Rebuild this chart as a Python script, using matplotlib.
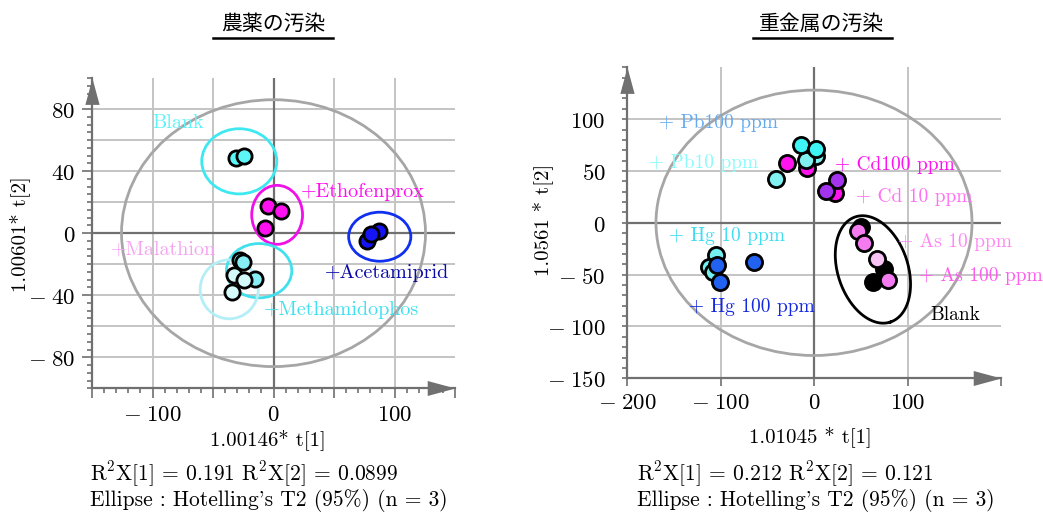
import numpy as np
import matplotlib.pyplot as plt
from matplotlib.patches import Ellipse
from matplotlib.lines import Line2D
from matplotlib.ticker import MultipleLocator, FuncFormatter

plt.rcParams['mathtext.fontset'] = 'cm'
plt.rcParams['axes.unicode_minus'] = False
SERIF = 'cmr10'
CJK = 'Noto Sans CJK JP'

# ---------------- 農薬 (pesticide) panel ----------------
pest_blank_x = [-31.4, -24.5]
pest_blank_y = [48.2, 50.0]
etho_x = [-4.7, 5.8, -7.4]
etho_y = [17.8, 14.4, 3.2]
acet_x = [76.9, 87.0, 80.2]
acet_y = [-5.3, 1.1, -0.6]
metha_x = [-27.3, -25.0, -14.9]
metha_y = [-17.1, -18.8, -29.6]
mala_x = [-32.8, -24.5, -34.0]
mala_y = [-26.8, -30.4, -38.1]

# group ellipses: centre x, centre y, half width, half height
pest_ell_cx = [-28.3, 3.0, 87.8, -11.9, -36.6]
pest_ell_cy = [46.3, 11.8, -2.3, -24.2, -36.2]
pest_ell_a = [31.0, 21.0, 25.7, 27.0, 24.0]
pest_ell_b = [21.0, 19.0, 15.8, 17.5, 19.0]
pest_t2 = [125.6, 86.0]

pest_labels = ['Blank', '+Ethofenprox', '+Malathion', '+Acetamiprid', '+Methamidophos']
pest_lab_x = [-100, 22.3, -134, 42.1, -8]
pest_lab_y = [71, 26.8, -10.7, -25.7, -49.3]

# ---------------- 重金属 (heavy metal) panel ----------------
cd100_x = [-28.5, -7.5, 22.2]
cd100_y = [57.4, 52.5, 28.4]
pb_hi_x = [-13.5, 1.8]
pb_hi_y = [75.1, 70.9]
pb_lo_x = [2.6, -8.1, -41.0]
pb_lo_y = [64.4, 60.6, 41.9]
cd10_x = [24.7, 13.3]
cd10_y = [41.3, 30.9]
metal_blank_x = [50.8, 74.7, 62.6]
metal_blank_y = [-4.4, -45.0, -57.0]
as10_x = [47.2, 53.6]
as10_y = [-7.7, -19.9]
as_lt_x = [66.9]
as_lt_y = [-35.4]
as100_x = [79.3]
as100_y = [-54.7]
hg10_x = [-104.6, -111.8, -108.0]
hg10_y = [-31.2, -42.5, -47.0]
hg100_x = [-104.0, -101.0, -64.6]
hg100_y = [-40.9, -57.0, -37.7]

metal_t2 = [169.0, 128.0]
# blank ellipse: centre, half axis vectors (data units)
blank_ell_c = [63.0, -45.0]
blank_ell_u = [18.8, -50.7]
blank_ell_v = [35.6, 10.7]

metal_labels = ['+ Pb100 ppm', '+ Pb10 ppm', '+ Cd100 ppm', '+ Cd 10 ppm',
                '+ Hg 10 ppm', '+ Hg 100 ppm', '+ As 10 ppm', '+ As 100 ppm', 'Blank']
metal_lab_x = [-165.4, -176, 22.2, 45.4, -155.4, -134, 89.4, 112.0, 124]
metal_lab_y = [96, 58, 55.7, 25, -12.8, -81.7, -18.3, -51.5, -89]

AX_GRAY = '#707070'
GRID = '#c4c4c4'
W, H = 1043, 513


def fmt(v, pos):
    if v < 0:
        return r'$-\;%d$' % (-v)
    return r'$%d$' % v


def style_axes(ax, xl, yl):
    ax.set_xlim(*xl)
    ax.set_ylim(*yl)
    for s in ['top', 'right']:
        ax.spines[s].set_visible(False)
    for s in ['left', 'bottom']:
        ax.spines[s].set_color(AX_GRAY)
        ax.spines[s].set_linewidth(1.6)
    ax.tick_params(which='both', color=AX_GRAY, width=1.2, labelcolor='black')
    ax.tick_params(which='major', length=7)
    ax.tick_params(which='minor', length=3.5)
    ax.axhline(0, color=AX_GRAY, lw=1.6, zorder=1)
    ax.axvline(0, color=AX_GRAY, lw=1.6, zorder=1)
    # arrow heads on the axes
    ax.plot([1], [0], transform=ax.transAxes, marker=[(-1, -0.27), (0, 0), (-1, 0.27)],
            ms=40, color=AX_GRAY, mec='none', clip_on=False, zorder=5)
    ax.plot([0], [1], transform=ax.transAxes, marker=[(-0.27, -1), (0, 0), (0.27, -1)],
            ms=38, color=AX_GRAY, mec='none', clip_on=False, zorder=5)


def pts(ax, x, y, c, s):
    ax.scatter(x, y, s=s, c=c, edgecolors='black', linewidths=2.0, zorder=4)


fig = plt.figure(figsize=(W / 100, H / 100), dpi=100)

# ---------- left panel ----------
ax1 = fig.add_axes([92 / W, 1 - 388.3 / H, 363 / W, 310.3 / H])
style_axes(ax1, (-150, 150), (-100, 100))
for g in [-100, -50, 50, 100]:
    ax1.axvline(g, color=GRID, lw=1.4, zorder=0)
for g in [-80, -60, -40, -20, 20, 40, 60, 80]:
    ax1.axhline(g, color=GRID, lw=1.4, zorder=0)
ax1.xaxis.set_major_locator(MultipleLocator(50))
ax1.xaxis.set_minor_locator(MultipleLocator(10))
ax1.xaxis.set_major_formatter(FuncFormatter(lambda v, p: fmt(v, p) if v % 100 == 0 and abs(v) < 150 else ''))
ax1.yaxis.set_major_locator(MultipleLocator(40))
ax1.yaxis.set_minor_locator(MultipleLocator(5))
ax1.yaxis.set_major_formatter(FuncFormatter(lambda v, p: fmt(v, p) if abs(v) < 100 else ''))
ax1.tick_params(axis='y', pad=5)

ax1.add_patch(Ellipse((0, 0), 2 * pest_t2[0], 2 * pest_t2[1], fill=False,
                      ec='#a6a6a6', lw=2, zorder=2))
pest_ell_col = ['#3ee8f0', '#f010e8', '#1030f0', '#40e0ec', '#b4eef6']
for cx, cy, a, b, c in zip(pest_ell_cx, pest_ell_cy, pest_ell_a, pest_ell_b, pest_ell_col):
    ax1.add_patch(Ellipse((cx, cy), 2 * a, 2 * b, fill=False, ec=c, lw=2, zorder=3))

S1 = 120
pts(ax1, pest_blank_x, pest_blank_y, '#5cf6f6', S1)
pts(ax1, etho_x, etho_y, '#ff10f0', S1)
pts(ax1, acet_x, acet_y, '#1414f5', S1)
pts(ax1, metha_x, metha_y, '#86eef4', S1)
pts(ax1, mala_x, mala_y, '#d4fafa', S1)

pest_lab_col = ['#60f4f8', '#ff10f0', '#f6a4f2', '#0a0aa8', '#40e0f0']
for t, x, y, c in zip(pest_labels, pest_lab_x, pest_lab_y, pest_lab_col):
    ax1.text(x, y, t, color=c, fontsize=14.5, family=SERIF, va='center', ha='left', zorder=6)

# ---------- right panel ----------
ax2 = fig.add_axes([627 / W, 1 - 378.3 / H, 374 / W, 311 / H])
style_axes(ax2, (-200, 200), (-150, 150))
for g in [-100, 100]:
    ax2.axvline(g, color=GRID, lw=1.4, zorder=0)
for g in [-100, -50, 50, 100]:
    ax2.axhline(g, color=GRID, lw=1.4, zorder=0)
ax2.xaxis.set_major_locator(MultipleLocator(100))
ax2.xaxis.set_major_formatter(FuncFormatter(lambda v, p: fmt(v, p) if v < 200 else ''))
ax2.yaxis.set_major_locator(MultipleLocator(50))
ax2.yaxis.set_minor_locator(MultipleLocator(10))
ax2.yaxis.set_major_formatter(FuncFormatter(lambda v, p: fmt(v, p) if v < 150 else ''))
ax2.tick_params(axis='y', which='major', length=3.5, pad=12)
ax2.tick_params(axis='x', which='major', length=6)

ax2.add_patch(Ellipse((0, 0), 2 * metal_t2[0], 2 * metal_t2[1], fill=False,
                      ec='#a6a6a6', lw=2, zorder=2))
t = np.linspace(0, 2 * np.pi, 200)
ex = blank_ell_c[0] + blank_ell_u[0] * np.cos(t) + blank_ell_v[0] * np.sin(t)
ey = blank_ell_c[1] + blank_ell_u[1] * np.cos(t) + blank_ell_v[1] * np.sin(t)
ax2.plot(ex, ey, color='black', lw=2, zorder=3)

S2 = 135
pts(ax2, cd100_x, cd100_y, '#ff14ee', S2)
pts(ax2, pb_lo_x, pb_lo_y, '#80f0f0', S2)
pts(ax2, pb_hi_x, pb_hi_y, '#3ef4f4', S2)
pts(ax2, cd10_x, cd10_y, '#a433ee', S2)
pts(ax2, metal_blank_x, metal_blank_y, 'black', S2)
pts(ax2, as10_x, as10_y, '#f47cf0', S2)
pts(ax2, as_lt_x, as_lt_y, '#f8c4f6', S2)
pts(ax2, as100_x, as100_y, '#f47cf0', S2)
pts(ax2, hg10_x, hg10_y, '#74f0f0', S2)
pts(ax2, hg100_x, hg100_y, '#2262f0', S2)

metal_lab_col = ['#64aaf0', '#8cfafa', '#ff10f0', '#ff70f4', '#40dcf0',
                 '#1428e0', '#ff88f4', '#ff5cf0', 'black']
for tx, x, y, c in zip(metal_labels, metal_lab_x, metal_lab_y, metal_lab_col):
    ax2.text(x, y, tx, color=c, fontsize=14, family=SERIF, va='center', ha='left', zorder=6)

for lab in ax1.get_xticklabels() + ax1.get_yticklabels() + ax2.get_xticklabels() + ax2.get_yticklabels():
    lab.set_fontsize(16.5)

# ---------- figure texts ----------
def ftext(x, y, s, **kw):
    fig.text(x / W, 1 - y / H, s, **kw)

ftext(273, 24, '農薬の汚染', family=CJK, fontsize=15, ha='center', va='center')
ftext(822, 24, '重金属の汚染', family=CJK, fontsize=15, ha='center', va='center')
fig.add_artist(Line2D([213 / W, 333 / W], [1 - 38 / H] * 2, color='black', lw=1.8))
fig.add_artist(Line2D([753 / W, 892 / W], [1 - 38 / H] * 2, color='black', lw=1.8))

ftext(268, 440, '1.00146* t[1]', family=SERIF, fontsize=15, ha='center', va='center')
ftext(810, 437, '1.01045 * t[1]', family=SERIF, fontsize=15, ha='center', va='center')
ftext(20, 234, '1.00601* t[2]', family=SERIF, fontsize=15, ha='center', va='center', rotation=90)
ftext(543, 220, '1.0561 * t[2]', family=SERIF, fontsize=15, ha='center', va='center', rotation=90)

ftext(90, 474, r'R$^2$X[1] = 0.191 R$^2$X[2] = 0.0899', family=SERIF, fontsize=15.5, va='center')
ftext(90, 500, "Ellipse : Hotelling's T2 (95%) (n = 3)", family=SERIF, fontsize=15.5, va='center')
ftext(637, 474, r'R$^2$X[1] = 0.212 R$^2$X[2] = 0.121', family=SERIF, fontsize=15.5, va='center')
ftext(637, 500, "Ellipse : Hotelling's T2 (95%) (n = 3)", family=SERIF, fontsize=15.5, va='center')

fig.savefig('out.png', dpi=100)
